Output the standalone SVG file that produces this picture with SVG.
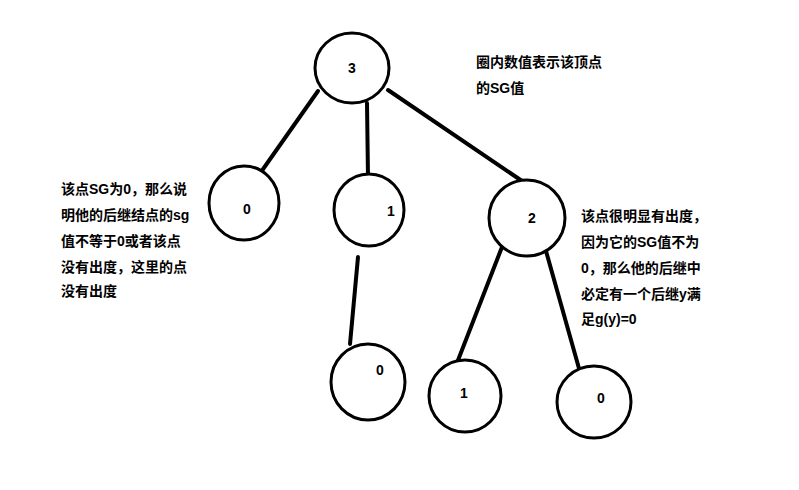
<svg xmlns="http://www.w3.org/2000/svg" width="799" height="490" viewBox="0 0 799 490">
<style>
.n{fill:#fff;stroke:#000;stroke-width:3}
.c line{stroke:#000;stroke-width:4;stroke-linecap:round}
text{font-family:"Liberation Sans","Noto Sans CJK SC",sans-serif;font-size:14px;font-weight:bold;fill:#000}
</style>
<rect width="799" height="490" fill="#fff"/>
<g class="c" id="connectors">
<line x1="318" y1="91" x2="261" y2="172"/>
<line x1="367" y1="103" x2="368" y2="178"/>
<line x1="388" y1="90" x2="525" y2="183"/>
<line x1="358" y1="257" x2="350" y2="344"/>
<line x1="502" y1="247" x2="455" y2="368"/>
<line x1="546" y1="251" x2="580" y2="372"/>
</g>
<g id="n3"><ellipse class="n" cx="352" cy="68" rx="37" ry="35"/><text x="352" y="73" text-anchor="middle">3</text></g>
<g id="n0a"><ellipse class="n" cx="244" cy="203" rx="35" ry="37"/><text x="247" y="214" text-anchor="middle">0</text></g>
<g id="n1a"><ellipse class="n" cx="369" cy="210" rx="35" ry="36"/><text x="391" y="216" text-anchor="middle">1</text></g>
<g id="n2"><ellipse class="n" cx="527" cy="218" rx="38" ry="38"/><text x="532" y="223" text-anchor="middle">2</text></g>
<g id="n0b"><ellipse class="n" cx="368" cy="382" rx="37" ry="38"/><text x="380" y="375" text-anchor="middle">0</text></g>
<g id="n1b"><ellipse class="n" cx="465" cy="396" rx="36" ry="36"/><text x="464" y="398" text-anchor="middle">1</text></g>
<g id="n0c"><ellipse class="n" cx="594" cy="402" rx="37" ry="36"/><text x="601" y="403" text-anchor="middle">0</text></g>
<g id="note-top"><text x="476" y="67">圈内数值表示该顶点</text><text x="476" y="93">的SG值</text></g>
<g id="note-left">
<text x="61" y="194">该点SG为0，那么说</text>
<text x="61" y="220">明他的后继结点的sg</text>
<text x="61" y="246">值不等于0或者该点</text>
<text x="61" y="272">没有出度，这里的点</text>
<text x="61" y="296">没有出度</text>
</g>
<g id="note-right">
<text x="581" y="221">该点很明显有出度，</text>
<text x="581" y="247">因为它的SG值不为</text>
<text x="581" y="273">0，那么他的后继中</text>
<text x="581" y="299">必定有一个后继y满</text>
<text x="581" y="324">足g(y)=0</text>
</g>
</svg>
